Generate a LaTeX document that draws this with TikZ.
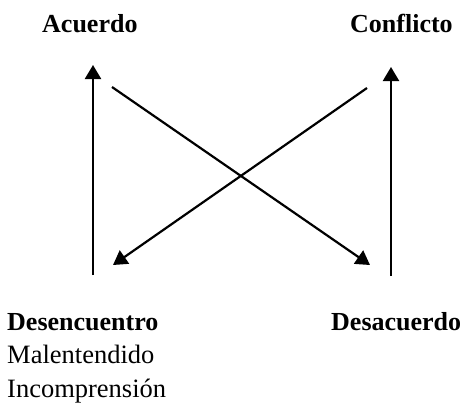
\documentclass[tikz,border=0pt]{standalone}
\usepackage{fontspec}
\setmainfont{Liberation Serif}
\usetikzlibrary{arrows.meta}
\tikzset{
  lbl/.style={anchor=base west, inner sep=0pt, font=\fontsize{26.5}{30}\selectfont},
  hd/.style={lbl, font=\fontsize{26}{30}\selectfont\bfseries},
  conn/.style={line width=2.2pt, -{Triangle[width=16pt,length=14pt]}}
}
\begin{document}
\begin{tikzpicture}[x=1pt,y=-1pt]
\useasboundingbox (0,0) rectangle (468,407);
\node[hd] (acuerdo) at (42,32) {Acuerdo};
\node[hd] (conflicto) at (350,32) {Conflicto};
\node[hd] (desenc) at (7,330) {Desencuentro};
\node[lbl] (malent) at (7,363) {Malentendido};
\node[lbl] (incomp) at (7,397) {Incomprensión};
\node[hd] (desac) at (331,330) {Desacuerdo};
\coordinate (lb) at (93,275);
\coordinate (lt) at (93,65);
\coordinate (rb) at (391,276);
\coordinate (rt) at (391,67);
\coordinate (d1s) at (112,87);
\coordinate (d1e) at (370,265);
\coordinate (d2s) at (367,88);
\coordinate (d2e) at (113,265);
\draw[conn] (lb) -- (lt);
\draw[conn] (rb) -- (rt);
\draw[conn] (d1s) -- (d1e);
\draw[conn] (d2s) -- (d2e);
\end{tikzpicture}
\end{document}
